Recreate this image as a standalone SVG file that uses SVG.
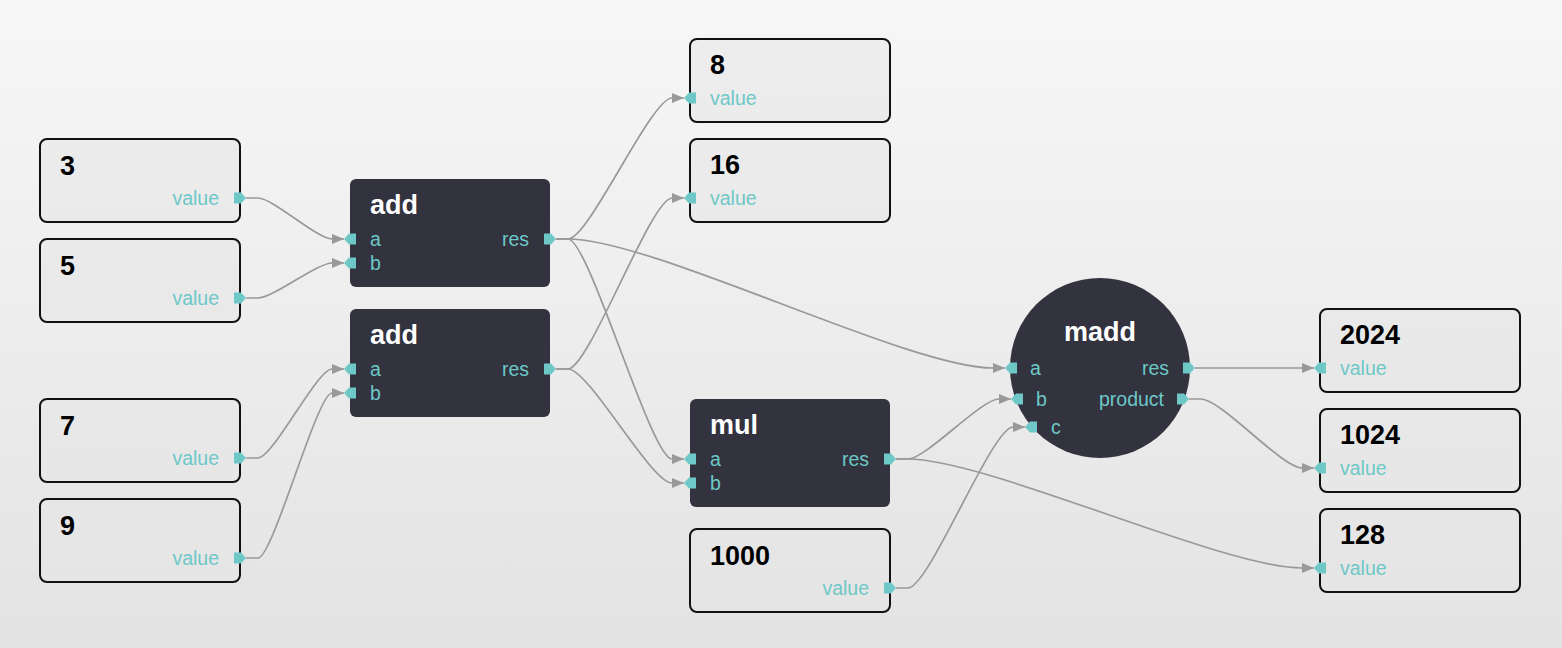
<svg xmlns="http://www.w3.org/2000/svg" width="1562" height="648" viewBox="0 0 1562 648">
<defs>
<linearGradient id="bg" x1="0" y1="0" x2="0" y2="1">
<stop offset="0" stop-color="#f7f7f7"/>
<stop offset="1" stop-color="#e3e3e3"/>
</linearGradient>
<marker id="arr" markerUnits="userSpaceOnUse" markerWidth="13" markerHeight="11" refX="12" refY="5.5" orient="auto">
<path d="M0,0.5 L12,5.5 L0,10.5 z" fill="#999999"/>
</marker>
<style>
.val{fill:#e6e6e6;fill-opacity:0.55;stroke:#111;stroke-width:2}
.op{fill:#32333f}
.title{font-family:"Liberation Sans",Arial,sans-serif;font-weight:bold;font-size:27px;fill:#000}
.otitle{font-family:"Liberation Sans",Arial,sans-serif;font-weight:bold;font-size:27px;fill:#fff}
.lbl{font-family:"Liberation Sans",Arial,sans-serif;font-size:19.5px;fill:#6dc8c7}
.end{text-anchor:end}
.port{fill:#6dc8c7}
.wire{fill:none;stroke:#999999;stroke-width:1.7;marker-end:url(#arr)}
</style>
</defs>
<rect x="0" y="0" width="1562" height="648" fill="url(#bg)"/>

<g id="connectors">
<path class="wire" d="M246,198 H258 C273,198 317,239 332,239 H344"/>
<path class="wire" d="M246,298 H258 C273,298 317,263 332,263 H344"/>
<path class="wire" d="M246,458 H258 C273,458 317,369 332,369 H344"/>
<path class="wire" d="M246,558 H258 C273,558 317,393 332,393 H344"/>
<path class="wire" d="M556,239 H568 C589,239 651,98 672,98 H684"/>
<path class="wire" d="M556,239 H568 C589,239 651,459 672,459 H684"/>
<path class="wire" d="M556,239 H568 C653,239 908,368 993,368 H1005"/>
<path class="wire" d="M556,369 H568 C589,369 651,198 672,198 H684"/>
<path class="wire" d="M556,369 H568 C589,369 651,483 672,483 H684"/>
<path class="wire" d="M896,459 H908 C926,459 981,399 999,399 H1011"/>
<path class="wire" d="M896,459 H908 C987,459 1223,568 1302,568 H1314"/>
<path class="wire" d="M896,588 H908 C929,588 992,427 1013,427 H1025"/>
<path class="wire" d="M1195,368 H1314"/>
<path class="wire" d="M1189,399 H1201 C1221,399 1282,468 1302,468 H1314"/>
</g>

<g id="n3">
<rect class="val" x="40" y="139" width="200" height="83" rx="7"/>
<text class="title" x="60" y="175">3</text>
<text class="lbl end" x="219" y="204.5">value</text>
<polygon class="port" points="234,192.5 241,192.5 246,198 241,203.5 234,203.5"/>
</g>
<g id="n5">
<rect class="val" x="40" y="239" width="200" height="83" rx="7"/>
<text class="title" x="60" y="275">5</text>
<text class="lbl end" x="219" y="304.5">value</text>
<polygon class="port" points="234,292.5 241,292.5 246,298 241,303.5 234,303.5"/>
</g>
<g id="n7">
<rect class="val" x="40" y="399" width="200" height="83" rx="7"/>
<text class="title" x="60" y="435">7</text>
<text class="lbl end" x="219" y="464.5">value</text>
<polygon class="port" points="234,452.5 241,452.5 246,458 241,463.5 234,463.5"/>
</g>
<g id="n9">
<rect class="val" x="40" y="499" width="200" height="83" rx="7"/>
<text class="title" x="60" y="535">9</text>
<text class="lbl end" x="219" y="564.5">value</text>
<polygon class="port" points="234,552.5 241,552.5 246,558 241,563.5 234,563.5"/>
</g>

<g id="add1">
<rect class="op" x="350" y="179" width="200" height="108" rx="6"/>
<text class="otitle" x="370" y="214">add</text>
<text class="lbl" x="370" y="245.5">a</text>
<text class="lbl" x="370" y="269.5">b</text>
<text class="lbl end" x="529" y="245.5">res</text>
<polygon class="port" points="344,239 349,233.5 356,233.5 356,244.5 349,244.5"/>
<polygon class="port" points="344,263 349,257.5 356,257.5 356,268.5 349,268.5"/>
<polygon class="port" points="544,233.5 551,233.5 556,239 551,244.5 544,244.5"/>
</g>
<g id="add2">
<rect class="op" x="350" y="309" width="200" height="108" rx="6"/>
<text class="otitle" x="370" y="344">add</text>
<text class="lbl" x="370" y="375.5">a</text>
<text class="lbl" x="370" y="399.5">b</text>
<text class="lbl end" x="529" y="375.5">res</text>
<polygon class="port" points="344,369 349,363.5 356,363.5 356,374.5 349,374.5"/>
<polygon class="port" points="344,393 349,387.5 356,387.5 356,398.5 349,398.5"/>
<polygon class="port" points="544,363.5 551,363.5 556,369 551,374.5 544,374.5"/>
</g>

<g id="n8">
<rect class="val" x="690" y="39" width="200" height="83" rx="7"/>
<text class="title" x="710" y="74">8</text>
<text class="lbl" x="710" y="104.5">value</text>
<polygon class="port" points="684,98 689,92.5 696,92.5 696,103.5 689,103.5"/>
</g>
<g id="n16">
<rect class="val" x="690" y="139" width="200" height="83" rx="7"/>
<text class="title" x="710" y="174">16</text>
<text class="lbl" x="710" y="204.5">value</text>
<polygon class="port" points="684,198 689,192.5 696,192.5 696,203.5 689,203.5"/>
</g>

<g id="mul">
<rect class="op" x="690" y="399" width="200" height="108" rx="6"/>
<text class="otitle" x="710" y="434">mul</text>
<text class="lbl" x="710" y="465.5">a</text>
<text class="lbl" x="710" y="489.5">b</text>
<text class="lbl end" x="869" y="465.5">res</text>
<polygon class="port" points="684,459 689,453.5 696,453.5 696,464.5 689,464.5"/>
<polygon class="port" points="684,483 689,477.5 696,477.5 696,488.5 689,488.5"/>
<polygon class="port" points="884,453.5 891,453.5 896,459 891,464.5 884,464.5"/>
</g>
<g id="n1000">
<rect class="val" x="690" y="529" width="200" height="83" rx="7"/>
<text class="title" x="710" y="565">1000</text>
<text class="lbl end" x="869" y="594.5">value</text>
<polygon class="port" points="884,582.5 891,582.5 896,588 891,593.5 884,593.5"/>
</g>

<g id="madd">
<circle class="op" cx="1100" cy="368" r="90"/>
<text class="otitle" x="1100" y="340.5" text-anchor="middle">madd</text>
<text class="lbl" x="1030" y="374.5">a</text>
<text class="lbl" x="1036" y="405.5">b</text>
<text class="lbl" x="1051" y="433.5">c</text>
<text class="lbl end" x="1169" y="374.5">res</text>
<text class="lbl end" x="1164" y="405.5">product</text>
<polygon class="port" points="1005,368 1010,362.5 1017,362.5 1017,373.5 1010,373.5"/>
<polygon class="port" points="1011,399 1016,393.5 1023,393.5 1023,404.5 1016,404.5"/>
<polygon class="port" points="1025,427 1030,421.5 1037,421.5 1037,432.5 1030,432.5"/>
<polygon class="port" points="1183,362.5 1190,362.5 1195,368 1190,373.5 1183,373.5"/>
<polygon class="port" points="1177,393.5 1184,393.5 1189,399 1184,404.5 1177,404.5"/>
</g>

<g id="n2024">
<rect class="val" x="1320" y="309" width="200" height="83" rx="7"/>
<text class="title" x="1340" y="344">2024</text>
<text class="lbl" x="1340" y="374.5">value</text>
<polygon class="port" points="1314,368 1319,362.5 1326,362.5 1326,373.5 1319,373.5"/>
</g>
<g id="n1024">
<rect class="val" x="1320" y="409" width="200" height="83" rx="7"/>
<text class="title" x="1340" y="444">1024</text>
<text class="lbl" x="1340" y="474.5">value</text>
<polygon class="port" points="1314,468 1319,462.5 1326,462.5 1326,473.5 1319,473.5"/>
</g>
<g id="n128">
<rect class="val" x="1320" y="509" width="200" height="83" rx="7"/>
<text class="title" x="1340" y="544">128</text>
<text class="lbl" x="1340" y="574.5">value</text>
<polygon class="port" points="1314,568 1319,562.5 1326,562.5 1326,573.5 1319,573.5"/>
</g>
</svg>
